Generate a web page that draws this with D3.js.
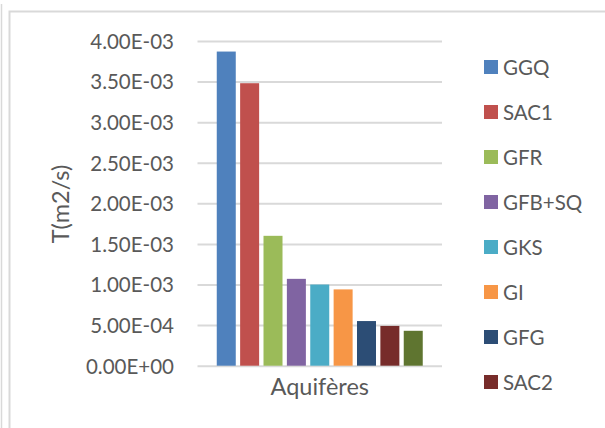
<!DOCTYPE html>
<html>
<head>
<meta charset="utf-8">
<script src="https://cdn.jsdelivr.net/npm/d3@7"></script>
<style>
  html, body { margin: 0; padding: 0; background: #ffffff; }
  svg { display: block; }
  text { font-family: Lato, "Open Sans", sans-serif; fill: #595959; }
</style>
</head>
<body>
<svg id="chart" width="605" height="428"></svg>
<script>
// Transmissivité par aquifère
const categories = ["GGQ", "SAC1", "GFR", "GFB+SQ", "GKS", "GI", "GFG", "SAC2", "Série 9"];
const values = [0.00387, 0.00348, 0.00160, 0.00107, 0.00100, 0.00094, 0.00055, 0.00049, 0.00043];
const colors = ["#4F81BD", "#C0504D", "#9BBB59", "#8064A2", "#4BACC6", "#F79646", "#2C4D75", "#772C2A", "#5F7530"];
const yTicks = [0, 0.0005, 0.001, 0.0015, 0.002, 0.0025, 0.003, 0.0035, 0.004];
const tickLabels = ["0.00E+00", "5.00E-04", "1.00E-03", "1.50E-03", "2.00E-03", "2.50E-03", "3.00E-03", "3.50E-03", "4.00E-03"];
const legendItems = categories.slice(0, 8); // the legend box only has room for eight entries
const yTitle = "T(m2/s)";
const xTitle = "Aquifères";

const svg = d3.select("#chart");

// chart frame
svg.append("line")
  .attr("x1", 1.5).attr("x2", 1.5).attr("y1", 4).attr("y2", 428)
  .attr("stroke", "#d9d9d9").attr("stroke-width", 1.5);
svg.append("rect")
  .attr("x", 9.5).attr("y", 11.5).attr("width", 620).attr("height", 440)
  .attr("fill", "#ffffff").attr("stroke", "#d9d9d9").attr("stroke-width", 2);

const plot = { left: 197.5, right: 442, top: 41, bottom: 365.7 };

const y = d3.scaleLinear().domain([0, 0.004]).range([plot.bottom, plot.top]);
const x = d3.scaleBand().domain(categories)
  .range([plot.left, plot.right])
  .paddingInner(0.187).paddingOuter(0.824);

// horizontal gridlines + tick labels via a left axis
const yAxis = d3.axisLeft(y)
  .tickValues(yTicks)
  .tickSize(-(plot.right - plot.left))
  .tickPadding(23.5)
  .tickFormat((d, i) => tickLabels[i]);

const gy = svg.append("g")
  .attr("transform", `translate(${plot.left},0)`)
  .call(yAxis);
gy.select(".domain").remove();
gy.selectAll(".tick line").attr("stroke", "#d9d9d9").attr("stroke-width", 2);
gy.selectAll(".tick text")
  .attr("fill", "#595959")
  .style("font-size", "20.5px")
  .attr("dy", "0.36em");

// bars
svg.append("g").selectAll("rect")
  .data(values)
  .join("rect")
  .attr("x", (d, i) => x(categories[i]))
  .attr("width", x.bandwidth())
  .attr("y", d => y(d))
  .attr("height", d => y(0) - y(d))
  .attr("fill", (d, i) => colors[i]);

// axis titles
svg.append("text")
  .attr("transform", `translate(69,204) rotate(-90)`)
  .attr("text-anchor", "middle")
  .style("font-size", "23.5px")
  .text(yTitle);

svg.append("text")
  .attr("x", (plot.left + plot.right) / 2)
  .attr("y", 395)
  .attr("text-anchor", "middle")
  .style("font-size", "23.5px")
  .text(xTitle);

// legend
const legend = svg.append("g").selectAll("g")
  .data(legendItems)
  .join("g")
  .attr("transform", (d, i) => `translate(484,${60 + i * 45})`);
legend.append("rect")
  .attr("width", 14).attr("height", 14)
  .attr("fill", (d, i) => colors[i]);
legend.append("text")
  .attr("x", 19).attr("y", 14.5)
  .style("font-size", "20.5px")
  .text(d => d);
</script>
</body>
</html>
